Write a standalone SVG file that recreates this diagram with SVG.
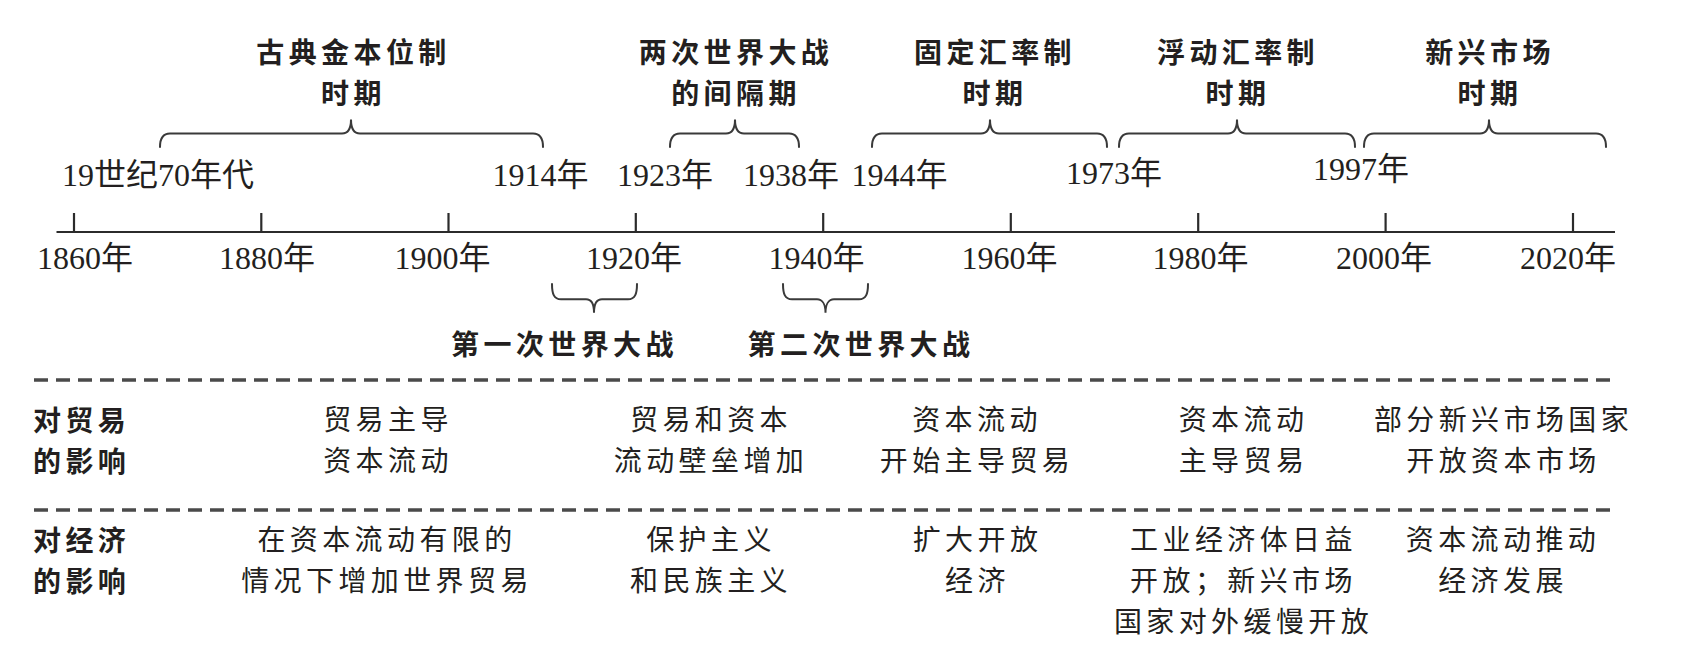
<svg xmlns="http://www.w3.org/2000/svg" width="1682" height="665" viewBox="0 0 1682 665">
<style>
.bg{fill:#ffffff}
.ln{stroke:#2b2b2b;stroke-width:2.2;fill:none}
.br{stroke:#3a3a3a;stroke-width:2;fill:none;stroke-linecap:round}
.dash{stroke:#4a4a4a;stroke-width:3.5;stroke-dasharray:14 8;fill:none}
.yr{font-family:"Liberation Serif","Noto Sans CJK SC",serif;font-size:32px;fill:#231f20}
.hd{font-family:"Noto Sans CJK SC",sans-serif;font-size:28px;letter-spacing:4.4px;font-weight:bold;fill:#231f20;text-anchor:middle}
.rl{font-family:"Noto Sans CJK SC",sans-serif;font-size:28px;letter-spacing:4.4px;font-weight:bold;fill:#231f20}
.bd{font-family:"Noto Sans CJK SC",sans-serif;font-size:28px;letter-spacing:4.4px;font-weight:normal;fill:#231f20;text-anchor:middle}
</style>
<rect class="bg" x="0" y="0" width="1682" height="665"/>

<g id="connectors">
  <g id="axis">
    <line class="ln" x1="56.5" y1="232" x2="1615" y2="232"/>
    <line class="ln" x1="74" y1="213" x2="74" y2="232"/>
    <line class="ln" x1="261.3" y1="213" x2="261.3" y2="232"/>
    <line class="ln" x1="448.5" y1="213" x2="448.5" y2="232"/>
    <line class="ln" x1="635.8" y1="213" x2="635.8" y2="232"/>
    <line class="ln" x1="823.2" y1="213" x2="823.2" y2="232"/>
    <line class="ln" x1="1010.8" y1="213" x2="1010.8" y2="232"/>
    <line class="ln" x1="1198.2" y1="213" x2="1198.2" y2="232"/>
    <line class="ln" x1="1385.6" y1="213" x2="1385.6" y2="232"/>
    <line class="ln" x1="1573" y1="213" x2="1573" y2="232"/>
  </g>
  <g id="top-braces">
    <path class="br" d="M160,147 C160,138 163,133.5 170,133.5 L342,133.5 C348,133.5 351,128 351,119.5 C351,128 354,133.5 360,133.5 L533,133.5 C540,133.5 543,138 543,147"/>
    <path class="br" d="M670,147 C670,138 673,133.5 680,133.5 L726,133.5 C732,133.5 735,128 735,119.5 C735,128 738,133.5 744,133.5 L789,133.5 C796,133.5 799,138 799,147"/>
    <path class="br" d="M872,147 C872,138 875,133.5 882,133.5 L981,133.5 C987,133.5 990,128 990,119.5 C990,128 993,133.5 999,133.5 L1097,133.5 C1104,133.5 1107,138 1107,147"/>
    <path class="br" d="M1119,147 C1119,138 1122,133.5 1129,133.5 L1228,133.5 C1234,133.5 1237,128 1237,119.5 C1237,128 1240,133.5 1246,133.5 L1345,133.5 C1352,133.5 1355,138 1355,147"/>
    <path class="br" d="M1364,147 C1364,138 1367,133.5 1374,133.5 L1480,133.5 C1486,133.5 1489,128 1489,119.5 C1489,128 1492,133.5 1498,133.5 L1596,133.5 C1603,133.5 1606,138 1606,147"/>
  </g>
  <g id="bottom-braces">
    <path class="br" d="M552,284 C552,294 554,299.3 561,299.3 L586,299.3 C591,299.3 594,304 594,312.7 C594,304 597,299.3 602,299.3 L628,299.3 C635,299.3 637,294 637,284"/>
    <path class="br" d="M783,284 C783,294 785,299.3 792,299.3 L817,299.3 C822,299.3 825.5,304 825.5,312.7 C825.5,304 829,299.3 834,299.3 L859,299.3 C866,299.3 868,294 868,284"/>
  </g>
  <g id="dividers">
    <line class="dash" x1="34" y1="380" x2="1614" y2="380"/>
    <line class="dash" x1="34" y1="510" x2="1614" y2="510"/>
  </g>
</g>

<g id="axis-labels">
  <text class="yr" x="37" y="268.5">1860年</text>
  <text class="yr" x="219" y="268.5">1880年</text>
  <text class="yr" x="394.5" y="268.5">1900年</text>
  <text class="yr" x="586" y="268.5">1920年</text>
  <text class="yr" x="768.5" y="268.5">1940年</text>
  <text class="yr" x="961.5" y="268.5">1960年</text>
  <text class="yr" x="1152.5" y="268.5">1980年</text>
  <text class="yr" x="1336" y="268.5">2000年</text>
  <text class="yr" x="1520" y="268.5">2020年</text>
</g>

<g id="date-labels">
  <text class="yr" x="62" y="186">19世纪70年代</text>
  <text class="yr" x="492.5" y="186">1914年</text>
  <text class="yr" x="617" y="186">1923年</text>
  <text class="yr" x="743" y="186">1938年</text>
  <text class="yr" x="851.5" y="186">1944年</text>
  <text class="yr" x="1066" y="184">1973年</text>
  <text class="yr" x="1313" y="179.5">1997年</text>
</g>

<g id="period-gold">
  <text class="hd" x="353.5" y="63">古典金本位制</text>
  <text class="hd" x="353.5" y="104">时期</text>
</g>
<g id="period-interwar">
  <text class="hd" x="736" y="63">两次世界大战</text>
  <text class="hd" x="736" y="104">的间隔期</text>
</g>
<g id="period-fixed">
  <text class="hd" x="995" y="63">固定汇率制</text>
  <text class="hd" x="995" y="104">时期</text>
</g>
<g id="period-floating">
  <text class="hd" x="1238" y="63">浮动汇率制</text>
  <text class="hd" x="1238" y="104">时期</text>
</g>
<g id="period-emerging">
  <text class="hd" x="1490" y="63">新兴市场</text>
  <text class="hd" x="1490" y="104">时期</text>
</g>
<g id="ww1">
  <text class="hd" x="564.5" y="355">第一次世界大战</text>
</g>
<g id="ww2">
  <text class="hd" x="861" y="355">第二次世界大战</text>
</g>

<g id="row-trade-label">
  <text class="rl" x="33" y="431">对贸易</text>
  <text class="rl" x="33" y="472">的影响</text>
</g>
<g id="row-economy-label">
  <text class="rl" x="33" y="551">对经济</text>
  <text class="rl" x="33" y="592">的影响</text>
</g>

<g id="trade-1">
  <text class="bd" x="388" y="430">贸易主导</text>
  <text class="bd" x="388" y="471">资本流动</text>
</g>
<g id="trade-2">
  <text class="bd" x="711" y="430">贸易和资本</text>
  <text class="bd" x="711" y="471">流动壁垒增加</text>
</g>
<g id="trade-3">
  <text class="bd" x="977" y="430">资本流动</text>
  <text class="bd" x="977" y="471">开始主导贸易</text>
</g>
<g id="trade-4">
  <text class="bd" x="1243.5" y="430">资本流动</text>
  <text class="bd" x="1243.5" y="471">主导贸易</text>
</g>
<g id="trade-5">
  <text class="bd" x="1503.5" y="430">部分新兴市场国家</text>
  <text class="bd" x="1503.5" y="471">开放资本市场</text>
</g>

<g id="econ-1">
  <text class="bd" x="387" y="550">在资本流动有限的</text>
  <text class="bd" x="387" y="591">情况下增加世界贸易</text>
</g>
<g id="econ-2">
  <text class="bd" x="711" y="550">保护主义</text>
  <text class="bd" x="711" y="591">和民族主义</text>
</g>
<g id="econ-3">
  <text class="bd" x="977.5" y="550">扩大开放</text>
  <text class="bd" x="977.5" y="591">经济</text>
</g>
<g id="econ-4">
  <text class="bd" x="1243.5" y="550">工业经济体日益</text>
  <text class="bd" x="1243.5" y="591">开放；新兴市场</text>
  <text class="bd" x="1243.5" y="632">国家对外缓慢开放</text>
</g>
<g id="econ-5">
  <text class="bd" x="1503" y="550">资本流动推动</text>
  <text class="bd" x="1503" y="591">经济发展</text>
</g>
</svg>
